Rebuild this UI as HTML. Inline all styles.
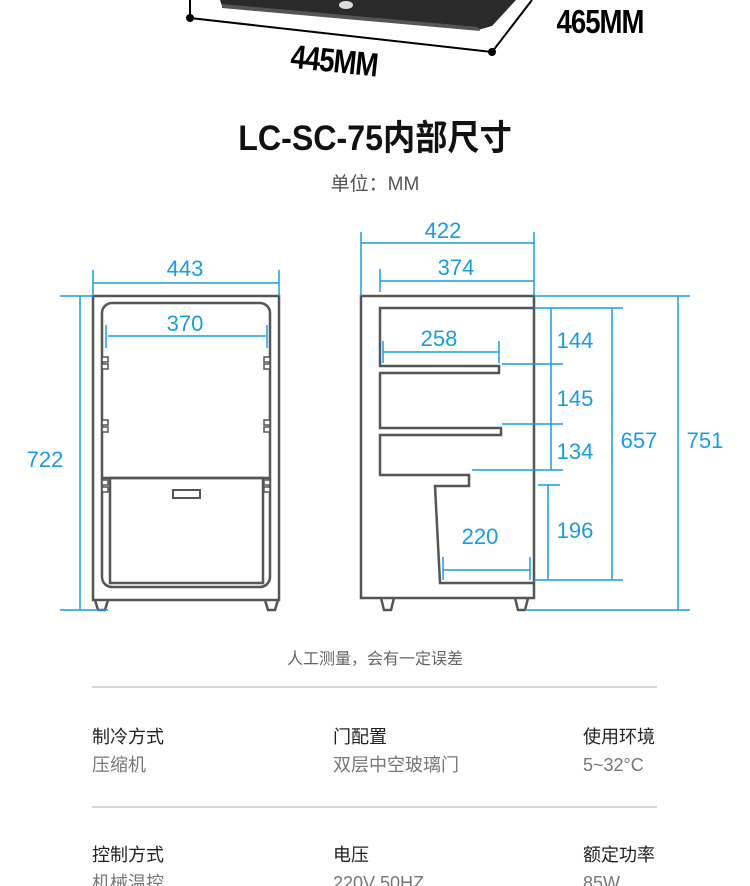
<!DOCTYPE html>
<html><head><meta charset="utf-8"><style>
html,body{margin:0;padding:0;background:#fff;width:750px;height:886px;overflow:hidden}
svg{display:block}
.b{fill:#1a9be6;font-family:"Liberation Sans",sans-serif;font-size:22px;text-anchor:middle}
.t{font-family:"Liberation Sans","Noto Sans CJK SC",sans-serif}
</style></head><body>
<svg width="750" height="886" viewBox="0 0 750 886" xmlns="http://www.w3.org/2000/svg">
<polygon points="220,0 222,6 478,30 492,26 516,0" fill="#2a2a2a"/>
<polygon points="222,4 478,27 480,31 222,8" fill="#555"/>
<ellipse cx="346" cy="5" rx="7" ry="4" fill="#ddd"/>
<line x1="190" y1="0" x2="190" y2="18" stroke="#000" stroke-width="2"/>
<line x1="190" y1="18" x2="492" y2="52" stroke="#000" stroke-width="2"/>
<line x1="492" y1="52" x2="532" y2="0" stroke="#000" stroke-width="2"/>
<circle cx="190" cy="18" r="4"/><circle cx="492" cy="52" r="4"/>
<g transform="translate(600,33) scale(0.95,1.15)"><text x="0" y="0" class="t" font-size="29" text-anchor="middle" font-weight="bold" letter-spacing="-1">465MM</text></g>
<g transform="translate(333,72) rotate(6) scale(0.95,1.15)"><text x="0" y="0" class="t" font-size="29" text-anchor="middle" font-weight="bold" letter-spacing="-1">445MM</text></g>

<g transform="translate(375,150) scale(0.92,1)"><text x="0" y="0" class="t" font-size="35" font-weight="bold" text-anchor="middle" fill="#111">LC-SC-75内部尺寸</text></g>
<text x="375" y="190" class="t" font-size="19" text-anchor="middle" fill="#555">单位：MM</text>

<g fill="none" stroke="#555" stroke-width="2.5">
<rect x="93" y="296" width="186" height="304"/>
<rect x="102" y="303" width="168" height="284" rx="10"/>
<line x1="102" y1="478" x2="270" y2="478"/>
<rect x="110" y="478" width="153" height="105"/>
<rect x="173" y="490" width="27" height="8" stroke-width="2"/>
<path d="M95 600 L98 610 L105 610 L108 600 M265 600 L268 610 L275 610 L278 600"/>
</g>
<g fill="#fff" stroke="#555" stroke-width="1.5">
<rect x="102" y="357" width="6" height="5"/><rect x="102" y="364" width="6" height="5"/>
<rect x="264" y="357" width="6" height="5"/><rect x="264" y="364" width="6" height="5"/>
<rect x="102" y="420" width="6" height="5"/><rect x="102" y="427" width="6" height="5"/>
<rect x="264" y="420" width="6" height="5"/><rect x="264" y="427" width="6" height="5"/>
<rect x="102" y="480" width="6" height="5"/><rect x="102" y="487" width="6" height="5"/>
<rect x="264" y="480" width="6" height="5"/><rect x="264" y="487" width="6" height="5"/>
</g>
<g stroke="#1a9be6" stroke-width="1.5" fill="none">
<line x1="93" y1="283" x2="279" y2="283"/>
<line x1="93" y1="270" x2="93" y2="296"/><line x1="279" y1="270" x2="279" y2="296"/>
<line x1="108" y1="336" x2="266" y2="336"/>
<line x1="106" y1="325" x2="106" y2="348"/><line x1="267" y1="325" x2="267" y2="348"/>
<line x1="80" y1="296" x2="80" y2="610"/>
<line x1="60" y1="296" x2="93" y2="296"/><line x1="60" y1="610" x2="108" y2="610"/>
</g>
<text x="185" y="276" class="b">443</text>
<text x="185" y="331" class="b">370</text>
<text x="45" y="467" class="b">722</text>

<g fill="none" stroke="#555" stroke-width="2.5">
<rect x="361" y="296" width="173" height="302"/>
<path d="M533 308 L380 308 L380 366 L499 366 L499 373 L380 373 L380 428 L501 428 L501 435 L380 435 L380 475 L469 475 L469 486 L435 486 L440 583 L533 583"/>
<path d="M381 598 L384 610 L391 610 L394 598 M515 598 L518 610 L525 610 L528 598"/>
</g>
<g stroke="#1a9be6" stroke-width="1.5" fill="none">
<line x1="361" y1="243" x2="534" y2="243"/>
<line x1="361" y1="232" x2="361" y2="296"/><line x1="534" y1="232" x2="534" y2="296"/>
<line x1="380" y1="281" x2="534" y2="281"/>
<line x1="380" y1="269" x2="380" y2="292"/>
<line x1="383" y1="352" x2="499" y2="352"/>
<line x1="383" y1="341" x2="383" y2="363"/><line x1="499" y1="341" x2="499" y2="363"/>
<line x1="443" y1="570" x2="530" y2="570"/>
<line x1="443" y1="557" x2="443" y2="580"/><line x1="530" y1="557" x2="530" y2="580"/>
<line x1="534" y1="296" x2="690" y2="296"/>
<line x1="534" y1="308" x2="623" y2="308"/>
<line x1="502" y1="364" x2="563" y2="364"/>
<line x1="502" y1="424" x2="563" y2="424"/>
<line x1="472" y1="470" x2="563" y2="470"/>
<line x1="538" y1="485" x2="560" y2="485"/>
<line x1="534" y1="580" x2="623" y2="580"/>
<line x1="525" y1="610" x2="690" y2="610"/>
<line x1="551" y1="308" x2="551" y2="470"/>
<line x1="548" y1="485" x2="548" y2="580"/>
<line x1="612" y1="308" x2="612" y2="580"/>
<line x1="678" y1="296" x2="678" y2="610"/>
</g>
<text x="443" y="238" class="b">422</text>
<text x="456" y="275" class="b">374</text>
<text x="439" y="346" class="b">258</text>
<text x="480" y="544" class="b">220</text>
<text x="575" y="348" class="b">144</text>
<text x="575" y="406" class="b">145</text>
<text x="575" y="459" class="b">134</text>
<text x="575" y="538" class="b">196</text>
<text x="639" y="448" class="b">657</text>
<text x="705" y="448" class="b">751</text>

<text x="375" y="664" class="t" font-size="16" text-anchor="middle" fill="#666">人工测量，会有一定误差</text>
<line x1="92" y1="687" x2="657" y2="687" stroke="#ccc" stroke-width="1.5"/>
<line x1="92" y1="807" x2="657" y2="807" stroke="#ccc" stroke-width="1.5"/>
<g class="t" font-size="18">
<text x="92" y="743" fill="#222">制冷方式</text>
<text x="92" y="771" fill="#777">压缩机</text>
<text x="333" y="743" fill="#222">门配置</text>
<text x="333" y="771" fill="#777">双层中空玻璃门</text>
<text x="583" y="743" fill="#222">使用环境</text>
<text x="583" y="771" fill="#777">5~32°C</text>
<text x="92" y="861" fill="#222">控制方式</text>
<text x="92" y="889" fill="#777">机械温控</text>
<text x="333" y="861" fill="#222">电压</text>
<text x="333" y="889" fill="#777">220V 50HZ</text>
<text x="583" y="861" fill="#222">额定功率</text>
<text x="583" y="889" fill="#777">85W</text>
</g>
</svg>
</body></html>
